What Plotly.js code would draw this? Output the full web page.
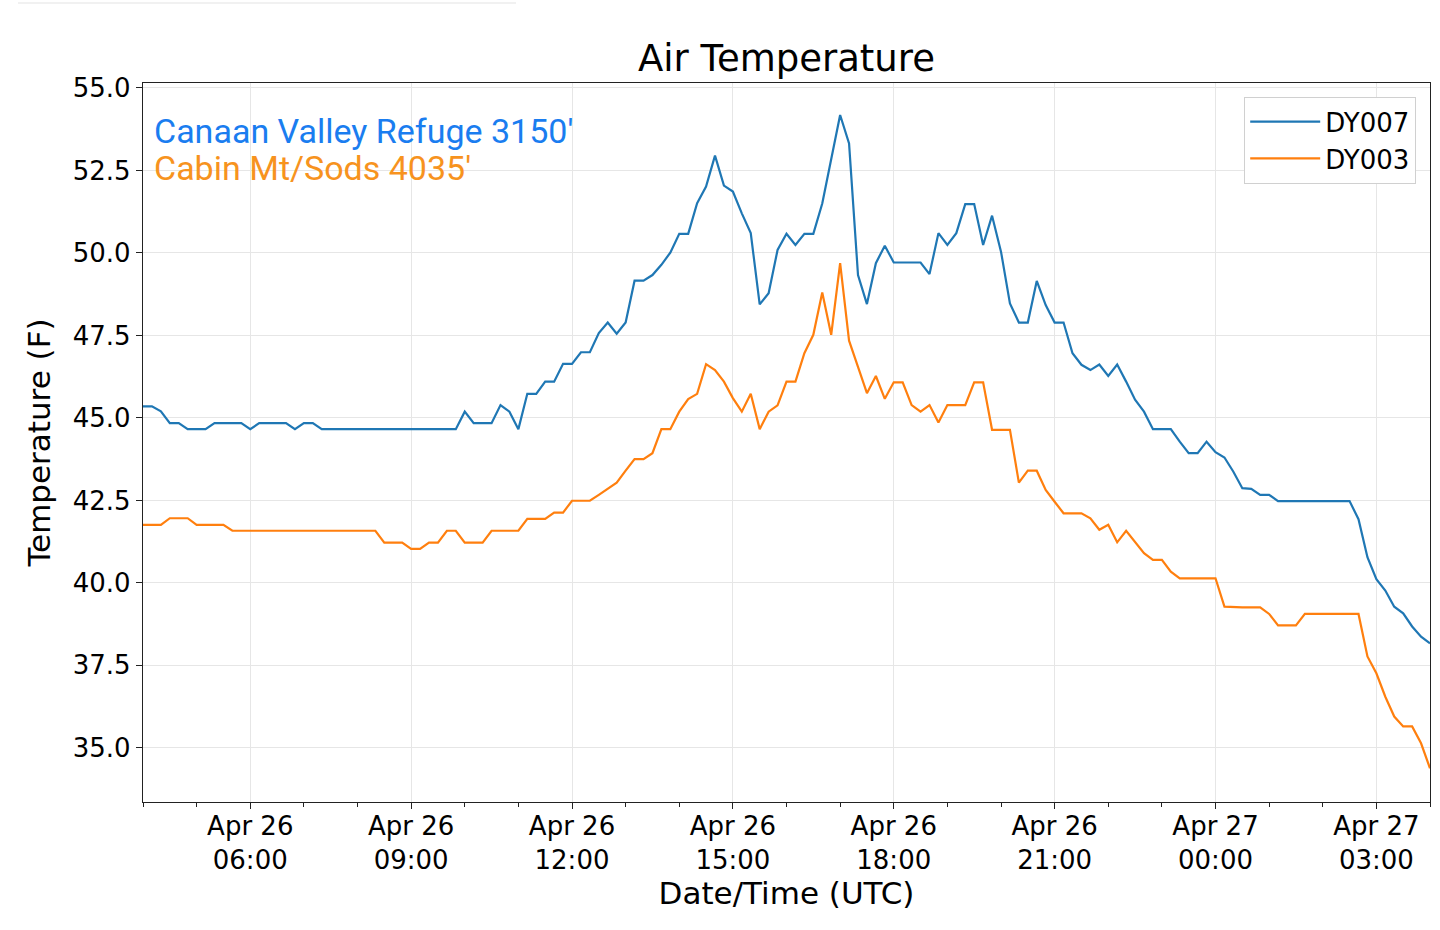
<!DOCTYPE html>
<html>
<head>
<meta charset="utf-8">
<script src="https://cdn.plot.ly/plotly-3.0.1.min.js"></script>
<style>
    html, body { margin: 0; padding: 0; background: #ffffff; }
    #airTempGraph { width: 1440px; height: 930px; }
</style>
</head>
<body>
<div id="airTempGraph"></div>
<script>
// Sampling: one reading every 10 minutes, starting Apr 26 04:00 UTC
const startTime = Date.UTC(2019, 3, 26, 4, 0);
const stepMinutes = 10;

// DY007 - Canaan Valley Refuge 3150'
const dy007 = [
    45.35, 45.35, 45.2, 44.84, 44.84, 44.66, 44.66, 44.66, 44.84, 44.84,
    44.84, 44.84, 44.66, 44.84, 44.84, 44.84, 44.84, 44.66, 44.84, 44.84,
    44.66, 44.66, 44.66, 44.66, 44.66, 44.66, 44.66, 44.66, 44.66, 44.66,
    44.66, 44.66, 44.66, 44.66, 44.66, 44.66, 45.19, 44.84, 44.84, 44.84,
    45.39, 45.19, 44.66, 45.73, 45.73, 46.1, 46.1, 46.64, 46.64, 46.99,
    46.99, 47.57, 47.89, 47.55, 47.89, 49.16, 49.16, 49.33, 49.64, 50.01,
    50.58, 50.58, 51.51, 52.01, 52.95, 52.04, 51.86, 51.2, 50.6, 48.44,
    48.78, 50.09, 50.58, 50.24, 50.58, 50.58, 51.5, 52.87, 54.18, 53.32,
    49.33, 48.45, 49.69, 50.22, 49.71, 49.71, 49.71, 49.71, 49.36, 50.6,
    50.24, 50.6, 51.48, 51.48, 50.24, 51.13, 50.04, 48.47, 47.89, 47.89,
    49.15, 48.42, 47.89, 47.89, 46.96, 46.61, 46.45, 46.62, 46.27, 46.62,
    46.1, 45.55, 45.19, 44.66, 44.66, 44.66, 44.28, 43.93, 43.93, 44.28,
    43.96, 43.8, 43.37, 42.87, 42.85, 42.67, 42.67, 42.48, 42.48, 42.48,
    42.48, 42.48, 42.48, 42.48, 42.48, 42.48, 41.93, 40.78, 40.11, 39.77,
    39.28, 39.08, 38.68, 38.37, 38.17
];

// DY003 - Cabin Mt/Sods 4035'
const dy003 = [
    41.76, 41.76, 41.76, 41.96, 41.96, 41.96, 41.76, 41.76, 41.76, 41.76,
    41.58, 41.58, 41.58, 41.58, 41.58, 41.58, 41.58, 41.58, 41.58, 41.58,
    41.58, 41.58, 41.58, 41.58, 41.58, 41.58, 41.58, 41.22, 41.22, 41.22,
    41.03, 41.03, 41.22, 41.22, 41.58, 41.58, 41.22, 41.22, 41.22, 41.58,
    41.58, 41.58, 41.58, 41.94, 41.94, 41.94, 42.13, 42.13, 42.49, 42.49,
    42.49, 42.67, 42.85, 43.04, 43.4, 43.75, 43.75, 43.93, 44.66, 44.66,
    45.19, 45.57, 45.73, 46.63, 46.45, 46.1, 45.6, 45.19, 45.73, 44.66,
    45.19, 45.38, 46.1, 46.1, 46.96, 47.52, 48.8, 47.52, 49.69, 47.34,
    46.55, 45.75, 46.27, 45.58, 46.08, 46.08, 45.39, 45.19, 45.39, 44.86,
    45.39, 45.39, 45.39, 46.08, 46.08, 44.64, 44.64, 44.64, 43.04, 43.4,
    43.4, 42.82, 42.46, 42.11, 42.11, 42.11, 41.96, 41.61, 41.76, 41.23,
    41.58, 41.25, 40.9, 40.7, 40.7, 40.34, 40.14, 40.14, 40.14, 40.14,
    40.14, 39.28, 39.26, 39.26, 39.26, 39.26, 39.06, 38.71, 38.71, 38.71,
    39.06, 39.06, 39.06, 39.06, 39.06, 39.06, 39.06, 37.77, 37.26, 36.55,
    35.95, 35.65, 35.65, 35.14, 34.38
];

const seriesNames = ['DY007', 'DY003'];
const siteLabels = ["Canaan Valley Refuge 3150'", "Cabin Mt/Sods 4035'"];

// Turn a sample index into a plotly date string (UTC, no zone shift)
function stamp(i) {
    const d = new Date(startTime + i * stepMinutes * 60000);
    return d.toISOString().slice(0, 16).replace('T', ' ');
}

const times = dy007.map((_, i) => stamp(i));
const xStart = stamp(0);
const xEnd = stamp(dy007.length - 1);

const FONT = 'DejaVu Sans, sans-serif';

function renderAirTemp() {
    const blueTrace = {
        x: times,
        y: dy007,
        type: 'scatter',
        mode: 'lines',
        name: seriesNames[0],
        line: { color: '#1f77b4', width: 2.2 }
    };

    const orangeTrace = {
        x: times,
        y: dy003,
        type: 'scatter',
        mode: 'lines',
        name: seriesNames[1],
        line: { color: '#ff7f0e', width: 2.2 }
    };

    const layout = {
        width: 1440,
        height: 930,
        paper_bgcolor: '#ffffff',
        plot_bgcolor: '#ffffff',
        font: { family: FONT, color: '#000000', size: 26 },
        margin: { l: 143, r: 10, t: 83, b: 128 },
        title: {
            text: 'Air Temperature',
            font: { family: FONT, size: 37, color: '#000000' },
            x: 0.5,
            xref: 'paper',
            xanchor: 'center',
            y: 1 - 58 / 930,
            yanchor: 'middle'
        },
        xaxis: {
            type: 'date',
            range: [xStart, xEnd],
            dtick: 3 * 3600000,
            tickformat: '%b %d\n%H:%M',
            tickfont: { family: FONT, size: 26, color: '#000000' },
            ticks: 'outside',
            ticklen: 6,
            tickwidth: 1.2,
            tickcolor: '#222222',
            ticklabelstandoff: -5,
            minor: { dtick: 3600000, ticks: 'outside', ticklen: 4, tickcolor: '#222222', showgrid: false },
            showgrid: true,
            gridcolor: '#e6e6e6',
            gridwidth: 1.2,
            showline: true,
            linecolor: '#222222',
            linewidth: 1.3,
            mirror: true,
            zeroline: false,
            title: { text: 'Date/Time (UTC)', font: { family: FONT, size: 31 }, standoff: 6 }
        },
        yaxis: {
            range: [33.36, 55.15],
            dtick: 2.5,
            tick0: 35,
            tickformat: '.1f',
            tickfont: { family: FONT, size: 26, color: '#000000' },
            ticks: 'outside',
            ticklen: 6,
            tickwidth: 1.2,
            tickcolor: '#222222',
            showgrid: true,
            gridcolor: '#e6e6e6',
            gridwidth: 1.2,
            showline: true,
            linecolor: '#222222',
            linewidth: 1.3,
            mirror: true,
            zeroline: false,
            title: { text: 'Temperature (F)', font: { family: FONT, size: 31 }, standoff: 12 }
        },
        legend: {
            x: 1 - 14 / 1287,
            xanchor: 'right',
            y: 1 - 14 / 719,
            yanchor: 'top',
            bgcolor: '#ffffff',
            bordercolor: '#d0d0d0',
            borderwidth: 1.2,
            itemwidth: 70,
            font: { family: FONT, size: 26, color: '#000000' }
        },
        showlegend: true,
        annotations: [
            {
                text: siteLabels[0],
                xref: 'paper', yref: 'paper',
                x: 9 / 1287, y: 1 - 48 / 719,
                xanchor: 'left', yanchor: 'middle',
                showarrow: false,
                font: { family: 'Roboto, sans-serif', size: 34, color: '#1a7df0' }
            },
            {
                text: siteLabels[1],
                xref: 'paper', yref: 'paper',
                x: 9 / 1287, y: 1 - 85 / 719,
                xanchor: 'left', yanchor: 'middle',
                showarrow: false,
                font: { family: 'Roboto, sans-serif', size: 34, color: '#f7931e' }
            }
        ],
        shapes: [
            // faint rule at the very top of the picture
            {
                type: 'line',
                xref: 'paper', yref: 'paper',
                x0: (18 - 143) / 1287, x1: (516 - 143) / 1287,
                y0: 1 + 80 / 719, y1: 1 + 80 / 719,
                line: { color: '#ececec', width: 1.5 }
            }
        ]
    };

    const config = {
        responsive: false,
        displayModeBar: false
    };

    Plotly.newPlot('airTempGraph', [blueTrace, orangeTrace], layout, config);
}

renderAirTemp();
</script>
</body>
</html>
